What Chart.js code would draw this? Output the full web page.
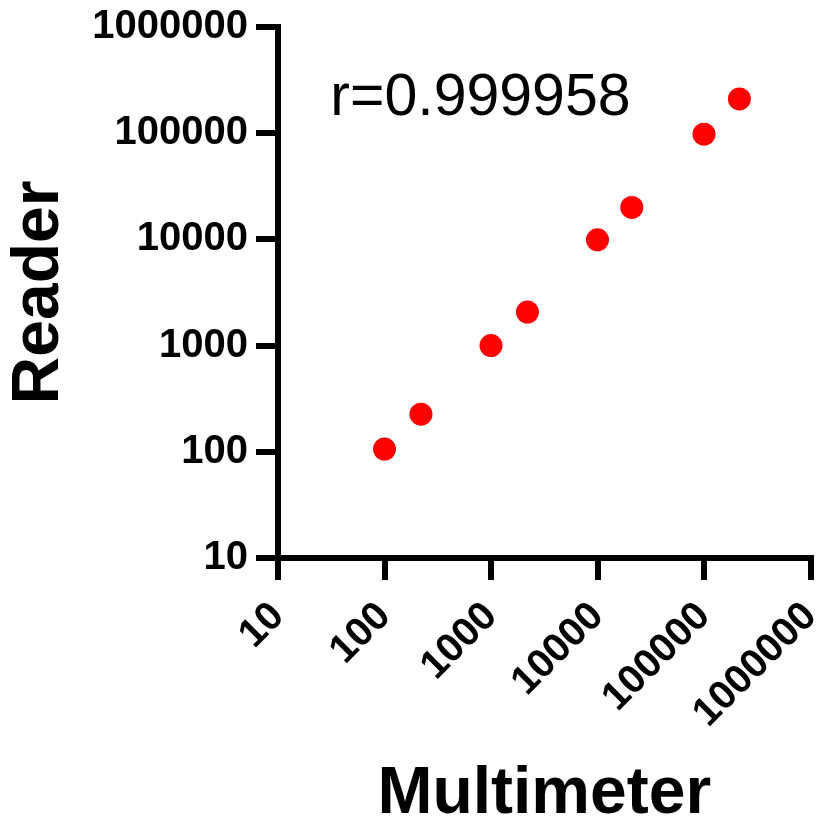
<!DOCTYPE html>
<html>
<head>
<meta charset="utf-8">
<script src="https://cdn.jsdelivr.net/npm/chart.js@4/dist/chart.umd.min.js"></script>
<style>
	body { margin: 0; background: #fff; }
	#wrap { width: 822px; height: 823px; }
</style>
</head>
<body>
<div id="wrap"><canvas id="myChart" width="822" height="823"></canvas></div>
<script>
// values
var multimeter = [100, 220, 1000, 2200, 10000, 21000, 100000, 215000];
var reader = [106, 226, 1000, 2070, 9900, 20000, 98000, 210000];
var xTicks = [10, 100, 1000, 10000, 100000, 1000000];
var yTicks = [10, 100, 1000, 10000, 100000, 1000000];
var noteText = "r=0.999958";
var noteAt = [31, 148000];

var points = multimeter.map(function (x, i) {
	return { x: x, y: reader[i] };
});

var fontFam = "'Liberation Sans', Arial, sans-serif";

// draws the r value inside the plot
const notePlugin = {
	id: "note",
	afterDatasetsDraw: function (chart) {
		var ctx = chart.ctx;
		var px = chart.scales.x.getPixelForValue(noteAt[0]);
		var py = chart.scales.y.getPixelForValue(noteAt[1]);
		ctx.save();
		ctx.fillStyle = "#000";
		ctx.font = "59px " + fontFam;
		ctx.textAlign = "left";
		ctx.textBaseline = "alphabetic";
		ctx.fillText(noteText, px, py);
		ctx.restore();
	},
};

function axisOpts(ticksArr, titleText, isX) {
	return {
		type: "logarithmic",
		min: ticksArr[0],
		max: ticksArr[ticksArr.length - 1],
		afterBuildTicks: function (scale) {
			scale.ticks = ticksArr.map(function (v) {
				return { value: v };
			});
		},
		afterFit: function (scale) {
			if (isX) {
				scale.height = 265;
				// rotated labels would otherwise eat into the right side
				scale.paddingRight = 0;
				scale.paddingLeft = 0;
			} else {
				scale.width = 278;
				scale.paddingTop = 0;
				scale.paddingBottom = 0;
			}
		},
		grid: {
			display: true,
			drawOnChartArea: false,
			drawTicks: true,
			tickLength: 22,
			tickWidth: 6,
			tickColor: "#000",
			lineWidth: 6,
			color: "#000",
		},
		border: { display: true, width: 6, color: "#000" },
		ticks: {
			color: "#000",
			padding: isX ? 13 : 8,
			autoSkip: false,
			maxRotation: isX ? 45 : 0,
			minRotation: isX ? 45 : 0,
			font: { family: fontFam, size: 40, weight: "bold" },
			callback: function (v) {
				return String(v);
			},
		},
		title: {
			display: true,
			text: titleText,
			color: "#000",
			padding: 0,
			font: { family: fontFam, size: 66, weight: "bold", lineHeight: isX ? 0.85 : 1.2 },
		},
	};
}

const ctx = document.getElementById("myChart").getContext("2d");
const myChart = new Chart(ctx, {
	type: "scatter",
	data: {
		datasets: [
			{
				label: "Reader",
				data: points,
				backgroundColor: "#ff0000",
				borderColor: "#ff0000",
				borderWidth: 0,
				pointRadius: 11.5,
			},
		],
	},
	options: {
		responsive: false,
		animation: false,
		layout: { padding: { top: 27, right: 11, left: 0, bottom: 0 } },
		plugins: {
			legend: { display: false },
			tooltip: { enabled: false },
		},
		scales: {
			x: axisOpts(xTicks, "Multimeter", true),
			y: axisOpts(yTicks, "Reader", false),
		},
	},
	plugins: [notePlugin],
});
</script>
</body>
</html>
